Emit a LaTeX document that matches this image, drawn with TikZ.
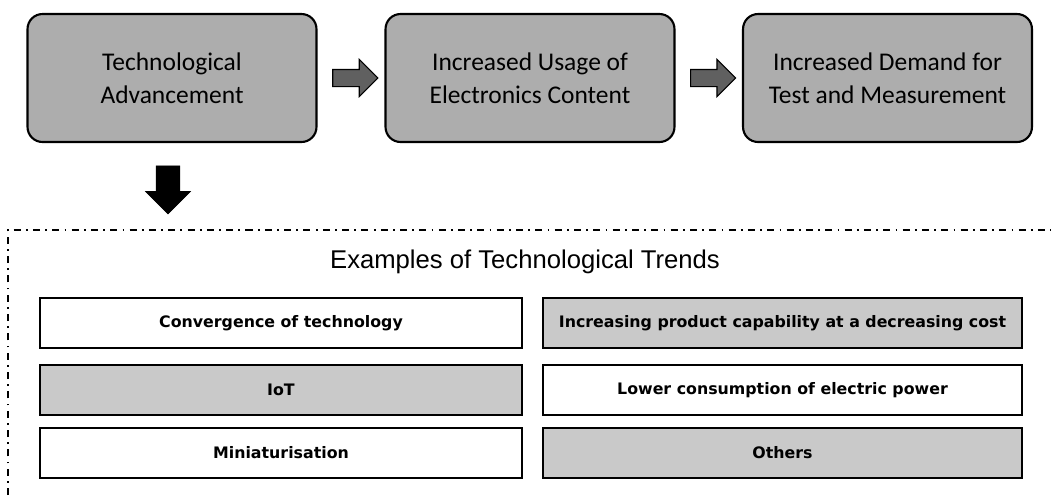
\documentclass[tikz,border=0pt]{standalone}
\usepackage{fontspec}
\usepackage{tikz}
\usetikzlibrary{shapes.arrows,calc}
\newfontfamily\stagefont{Carlito}
\newfontfamily\trendfont{DejaVu Sans}
\newfontfamily\headfont{Liberation Sans}

\begin{document}
\begin{tikzpicture}[x=0.02cm, y=-0.02cm]
  % page 1051 x 495 px, 1 unit = 1 px
  \useasboundingbox (0,0) rectangle (1051,495);
  \tikzset{
    stage/.style={draw, line width=1.2pt, rounded corners=0.3cm, fill=gray!64,
      minimum width=5.78cm, minimum height=2.56cm, align=center,
      font=\stagefont\fontsize{14.5}{18.8}\selectfont},
    flow/.style={single arrow, draw, line width=0.6pt, fill=gray!75!black,
      minimum height=0.9cm, minimum width=0.72cm, single arrow head extend=0.2cm,
      inner xsep=0pt, inner ysep=0.16cm},
    trend/.style={draw, line width=1.2pt, minimum height=1.0cm,
      font=\trendfont\bfseries\fontsize{9}{11}\selectfont},
    leftcol/.style={trend, minimum width=9.64cm},
    rightcol/.style={trend, minimum width=9.58cm},
    shaded/.style={fill=gray!42}
  }

  % Top chain
  \node[stage] (tech)  at (172,78)   {Technological\\Advancement};
  \node[stage] (usage) at (530,78)   {Increased Usage of\\Electronics Content};
  \node[stage] (demand) at (887.5,78) {Increased Demand for\\Test and Measurement};

  \node[flow] (a1) at ($(tech.east)!0.5!(usage.west)$) {};
  \node[flow] (a2) at ($(usage.east)!0.5!(demand.west)$) {};

  % Down arrow to the trends frame
  \node[single arrow, draw=black, fill=black, rotate=-90,
    minimum height=0.96cm, minimum width=0.88cm, single arrow head extend=0.21cm,
    inner xsep=0pt, inner ysep=0.23cm] (down) at (168,184) {};

  % Trends frame (only top and left edges inside the picture)
  \draw[line width=0.9pt, dash pattern=on 4pt off 3pt on 1pt off 3pt]
    (8,495) -- (8,230) -- (1051,230);
  \node[font=\headfont\fontsize{14.6}{17}\selectfont] (title) at (525,262)
    {Examples of Technological Trends};

  % Trend boxes
  \node[leftcol]          (conv)  at (281,323)   {Convergence of technology};
  \node[rightcol, shaded] (cap)   at (782.5,323) {Increasing product capability at a decreasing cost};
  \node[leftcol, shaded]  (iot)   at (281,390)   {IoT};
  \node[rightcol]         (power) at (782.5,390) {Lower consumption of electric power};
  \node[leftcol]          (mini)  at (281,453)   {Miniaturisation};
  \node[rightcol, shaded] (other) at (782.5,453) {Others};
\end{tikzpicture}
\end{document}
